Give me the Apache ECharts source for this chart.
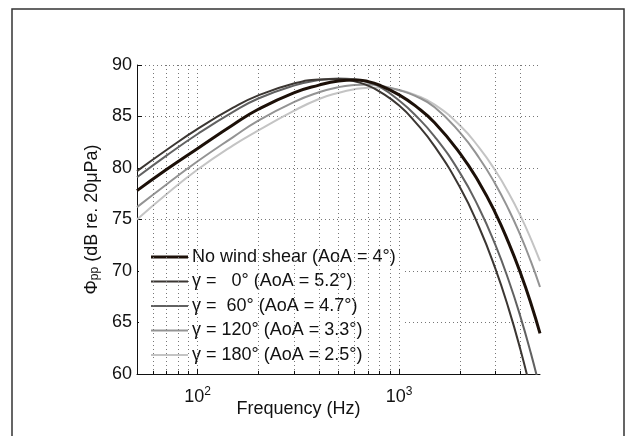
<!DOCTYPE html>
<html>
<head>
<meta charset="utf-8">
<script src="https://cdn.jsdelivr.net/npm/echarts@6/dist/echarts.min.js"></script>
<style>
  html, body { margin: 0; padding: 0; background: #fff; }
  #chart { width: 629px; height: 436px; }
</style>
</head>
<body>
<div id="chart"></div>
<script>
// ---- data ----
const freqHz   = [50, 70, 100, 150, 200, 300, 400, 500, 600, 700, 800, 1000, 1200, 1500, 2000, 2500, 3000, 3500, 4000, 4500, 5000];
const noShear  = [77.8, 79.85, 81.9, 84.2, 85.7, 87.3, 88.05, 88.45, 88.55, 88.4, 88.05, 87.1, 86.05, 84.4, 81.45, 78.55, 75.65, 72.7, 69.8, 66.9, 63.95];
const gamma0   = [79.7, 81.75, 83.8, 85.85, 87.05, 88.2, 88.6, 88.65, 88.43, 88.0, 87.42, 86.06, 84.48, 82.1, 78.15, 74.2, 70.25, 66.3, 62.35, 58.4, null];
const gamma60  = [79.1, 81.2, 83.3, 85.45, 86.75, 88.0, 88.55, 88.7, 88.62, 88.33, 87.9, 86.55, 85.15, 83.05, 79.55, 76.05, 72.55, 69.05, 65.55, 62.05, 58.55];
const gamma120 = [76.2, 78.4, 80.65, 83.0, 84.6, 86.4, 87.35, 87.85, 88.05, 88.1, 88.0, 87.55, 87.0, 85.9, 83.45, 80.95, 78.45, 75.95, 73.45, 70.95, 68.45];
const gamma180 = [75.0, 77.45, 79.85, 82.2, 83.65, 85.55, 86.7, 87.3, 87.65, 87.8, 87.82, 87.58, 87.1, 86.15, 84.15, 81.95, 79.75, 77.55, 75.35, 73.15, 70.95];

const seriesNames = [
  'No wind shear (AoA = 4°)',
  'γ =   0° (AoA = 5.2°)',
  'γ =  60° (AoA = 4.7°)',
  'γ = 120° (AoA = 3.3°)',
  'γ = 180° (AoA = 2.5°)'
];
const majorFreqs = [100, 1000];
const minorFreqs = [60, 70, 80, 90, 200, 300, 400, 500, 600, 700, 800, 900, 2000, 3000, 4000];

// ---- chart ----
const FONT = "'Liberation Sans', Arial, Helvetica, sans-serif";
const pairs = vals => freqHz.map((f, i) => [f, vals[i]]);

const colors = ['#1c1008', '#3b3632', '#616161', '#939393', '#c4c4c4'];
const widths = [3, 2, 2, 2, 2];

const gridLineData = majorFreqs.concat(minorFreqs).map(f => ({ xAxis: f }));
const tickLineData = majorFreqs.map(f => [{ coord: [f, 60] }, { coord: [f, 60.5] }])
  .concat(minorFreqs.map(f => [{ coord: [f, 60] }, { coord: [f, 60.3] }]));

function curve(idx, vals, z) {
  return {
    name: seriesNames[idx], type: 'line', data: pairs(vals),
    smooth: 0.5,
    symbol: 'none', showSymbol: false, connectNulls: false, clip: true, z: z,
    lineStyle: { color: colors[idx], width: widths[idx] }, itemStyle: { color: colors[idx] },
    animation: false
  };
}

function legendIcon(idx) {
  // a thin horizontal bar centred in a 37x6 box (bar thickness = line width)
  const w = widths[idx];
  const y0 = (6 - w) / 2, y1 = y0 + w;
  return 'path://M0,0M37,6M0,' + y0 + 'H37V' + y1 + 'H0Z';
}

const chart = echarts.init(document.getElementById('chart'), null, { renderer: 'canvas' });
chart.setOption({
  backgroundColor: '#fff',
  animation: false,
  textStyle: { fontFamily: FONT },
  grid: { left: 137, right: 89, top: 65, bottom: 62, containLabel: false },
  graphic: [{
    type: 'rect', silent: true, z: 0,
    shape: { x: 12, y: 9, width: 612, height: 445 },
    style: { fill: 'none', stroke: '#333', lineWidth: 1.5 }
  }],
  legend: {
    orient: 'vertical', left: 139, top: 244,
    padding: [4, 8, 4, 12], itemGap: 6.5, itemWidth: 37, itemHeight: 6,
    backgroundColor: '#fff', borderWidth: 0,
    textStyle: { fontFamily: FONT, fontSize: 18, color: '#111', padding: [0, 0, 0, -1] },
    data: seriesNames.map((n, i) => ({ name: n, icon: legendIcon(i), itemStyle: { color: colors[i], borderWidth: 0 } })),
    selectedMode: false
  },
  xAxis: {
    type: 'log', logBase: 10, min: 50, max: 5000,
    name: 'Frequency (Hz)', nameLocation: 'middle', nameGap: 26, nameMoveOverlap: false,
    nameTextStyle: { fontFamily: FONT, fontSize: 18, color: '#111', padding: [0, 80, 0, 0] },
    axisLine: { show: true, onZero: false, lineStyle: { color: '#111', width: 1 } },
    axisTick: { show: false },
    splitLine: { show: false },
    axisLabel: {
      margin: 12, showMinLabel: false, showMaxLabel: false,
      formatter: function (v) {
        const e = Math.log10(v);
        const r = Math.round(e);
        if (Math.abs(e - r) < 1e-6 && (r === 2 || r === 3)) return '{b|10}{s|' + r + '}';
        return '';
      },
      rich: {
        b: { fontFamily: FONT, fontSize: 18, color: '#111', lineHeight: 22 },
        s: { fontFamily: FONT, fontSize: 12, color: '#111', lineHeight: 12, verticalAlign: 'top' }
      }
    }
  },
  yAxis: {
    type: 'value', min: 60, max: 90, interval: 5,
    name: '{a|Φ}{sub|pp}{a| (dB re. 20μPa)}', nameLocation: 'middle', nameGap: 36, nameRotate: 90,
    nameTextStyle: {
      rich: {
        a: { fontFamily: FONT, fontSize: 18, color: '#111', lineHeight: 18, verticalAlign: 'top' },
        sub: { fontFamily: FONT, fontSize: 12, color: '#111', lineHeight: 12, verticalAlign: 'bottom', padding: [14, 0, 0, 0] }
      }
    },
    axisLine: { show: true, lineStyle: { color: '#111', width: 1 } },
    axisTick: { show: true, inside: true, length: 5, lineStyle: { color: '#111' } },
    axisLabel: { fontFamily: FONT, fontSize: 18, color: '#111', margin: 5 },
    splitLine: { show: true, lineStyle: { color: '#777', width: 1, type: [1, 3] } }
  },
  series: [
    {
      name: 'grid', type: 'line', data: [], z: 1, silent: true, animation: false,
      markLine: {
        silent: true, symbol: ['none', 'none'], label: { show: false }, animation: false,
        lineStyle: { color: '#777', width: 1, type: [1, 3] },
        data: gridLineData
      }
    },
    {
      name: 'ticks', type: 'line', data: [], z: 1, silent: true, animation: false,
      markLine: {
        silent: true, symbol: ['none', 'none'], label: { show: false }, animation: false,
        lineStyle: { color: '#111', width: 1, type: 'solid' },
        data: tickLineData
      }
    },
    curve(4, gamma180, 3),
    curve(3, gamma120, 4),
    curve(2, gamma60, 5),
    curve(1, gamma0, 6),
    curve(0, noShear, 7)
  ]
});
</script>
</body>
</html>
